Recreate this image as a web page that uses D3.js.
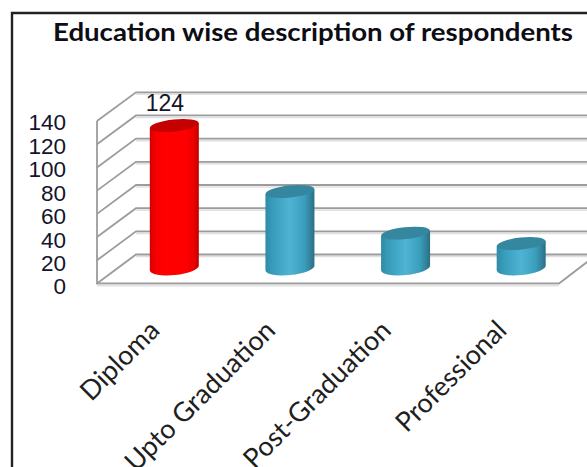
<!DOCTYPE html>
<html><head><meta charset="utf-8">
<script src="https://cdn.jsdelivr.net/npm/d3@7/dist/d3.min.js"></script>
<style>html,body{margin:0;padding:0;background:#fff;overflow:hidden}svg{display:block}</style>
</head><body><div id="c"></div>
<script>
const categories = ["Diploma","Upto Graduation","Post-Graduation","Professional"];
const values = [124,67,31,22];
const tickValues = [0,20,40,60,80,100,120,140];
const barColors = ["red","teal","teal","teal"];
const titleText = "Education wise description of respondents";

const W=587,H=467;
const svg=d3.select("#c").append("svg").attr("width",W).attr("height",H);
const defs=svg.append("defs");
const blur=defs.append("filter").attr("id","soft").attr("x","-5%").attr("y","-5%").attr("width","110%").attr("height","110%");
blur.append("feGaussianBlur").attr("stdDeviation",0.5);
function grad(id,stops){const g=defs.append("linearGradient").attr("id",id).attr("x1",0).attr("x2",1).attr("y1",0).attr("y2",0);
  stops.forEach(s=>g.append("stop").attr("offset",s[0]).attr("stop-color",s[1]));}
grad("red",[[0,"#d00000"],[0.1,"#f40000"],[0.3,"#ff0000"],[0.75,"#ff0000"],[0.92,"#e40000"],[1,"#bc0000"]]);
grad("teal",[[0,"#2f8aa5"],[0.12,"#359ab8"],[0.5,"#4fb4d4"],[0.8,"#3a9dbb"],[1,"#2a6f85"]]);
const topColor={red:"#c40000",teal:"#35869f"};

// frame
svg.append("path").attr("d",`M12,${H}V13H${W}`).attr("fill","none").attr("stroke","#222").attr("stroke-width",2.4);

// scales
const yFront=d3.scaleLinear().domain([0,140]).range([283.5,121]);
const yBack=d3.scaleLinear().domain([0,140]).range([254.5,92.3]);
const yBar=d3.scaleLinear().domain([0,140]).range([268,106]);
const yLab=d3.scaleLinear().domain([0,140]).range([286,122]);
const x=d3.scaleBand().domain(categories).range([116.5,579]);
const bw=49;
const xFrontL=97,xBackL=136,xFrontR=559,xBackR=W+2;

const plot=svg.append("g").attr("filter","url(#soft)");
const grid="#9c9c9c";
// soft shadow below the lines, then the gridlines: back wall + left wall
plot.selectAll(".s").data(tickValues).join("path").attr("class","s")
  .attr("fill","none").attr("stroke","#e0e0e0").attr("stroke-width",1.6)
  .attr("d",d=>`M${xBackL},${yBack(d)+2}H${W}`);
plot.selectAll(".g").data(tickValues).join("path").attr("class","g")
  .attr("fill","none").attr("stroke",grid).attr("stroke-width",1.8)
  .attr("d",d=>`M${xFrontL},${yFront(d)}L${xBackL},${yBack(d)}H${W}`);
plot.append("path").attr("fill","none").attr("stroke",grid).attr("stroke-width",1.8)
  .attr("d",`M${xFrontL},${yFront(140)}V${yFront(0)}H${xFrontR}L${xBackR},${yBack(0)+6}`);
plot.append("line").attr("x1",xFrontL).attr("x2",xFrontR).attr("y1",yFront(0)+2).attr("y2",yFront(0)+2).attr("stroke","#e2e2e2").attr("stroke-width",2);

// cylinders
const rx=bw/2,ry=6,tilt=-6;
const bars=plot.selectAll(".b").data(categories.map((c,i)=>({c,v:values[i],col:barColors[i]}))).join("g").attr("class","b");
bars.each(function(d){
  const g=d3.select(this);
  const cx=x(d.c)+x.bandwidth()/2;
  const yt=yBar(d.v)+1,yb=yBar(0);
  const dy=Math.sin(-tilt*Math.PI/180)*rx;
  g.append("path").attr("fill",`url(#${d.col})`)
   .attr("d",`M${cx-rx},${yt+dy}L${cx+rx},${yt-dy}L${cx+rx},${yb-dy}A${rx},${ry+1} ${tilt} 0 1 ${cx-rx},${yb+dy}Z`);
  g.append("ellipse").attr("cx",cx).attr("cy",yt).attr("rx",rx).attr("ry",ry)
   .attr("transform",`rotate(${tilt},${cx},${yt})`).attr("fill",topColor[d.col]);
});

// title
svg.append("text").attr("x",313).attr("y",41).attr("text-anchor","middle")
  .attr("font-family","Lato").attr("font-weight",700).attr("font-size",24).attr("fill","#0d0d14")
  .attr("textLength",520).attr("lengthAdjust","spacingAndGlyphs").text(titleText);

// y axis
const axis=d3.axisLeft(yLab).tickValues(tickValues).tickSize(0).tickPadding(0);
const ag=svg.append("g").attr("transform","translate(66,0)").call(axis);
ag.select(".domain").remove();
ag.selectAll("text").attr("font-family","Liberation Sans").attr("font-size",22.5).attr("fill","#14142a").attr("dy","0.35em");

// value label (first bar only, as in the reference)
svg.append("text").attr("x",x(categories[0])+x.bandwidth()/2-9.5).attr("y",111).attr("text-anchor","middle")
  .attr("font-family","Liberation Sans").attr("font-size",23).attr("fill","#14142a").text(values[0]);

// category labels
const xAxis=d3.axisBottom(x).tickSize(0).tickPadding(0);
const xg=svg.append("g").call(xAxis);
xg.select(".domain").remove();
xg.selectAll(".tick").attr("transform",d=>`translate(${x(d)+x.bandwidth()/2-13},332)`);
xg.selectAll("text").attr("transform","rotate(-45)").attr("text-anchor","end").attr("x",0).attr("y",0).attr("dy",0)
  .attr("font-family","Lato").attr("font-size",27).attr("fill","#1f1f1f");
</script></body></html>
